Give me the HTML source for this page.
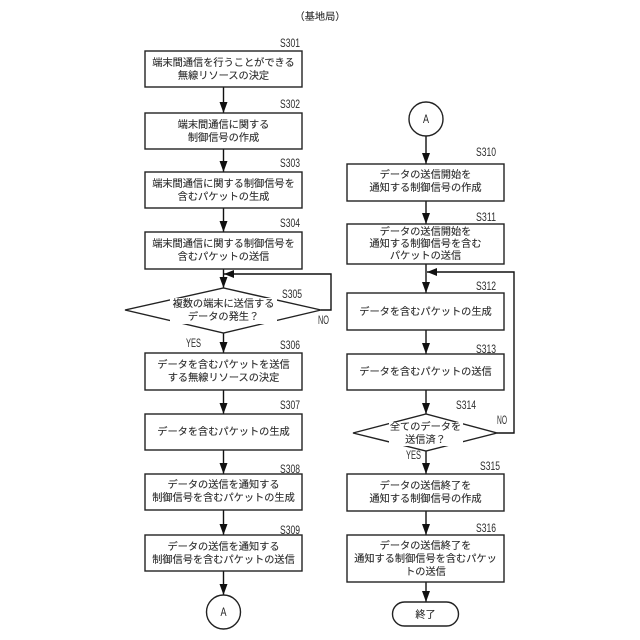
<!DOCTYPE html>
<html lang="ja">
<head>
<meta charset="utf-8">
<style>
html,body{margin:0;padding:0;background:#fff;width:640px;height:640px;overflow:hidden}
svg{display:block}
.b{fill:#fff;stroke:#222;stroke-width:1.4}
.l{stroke:#111;stroke-width:1.4;fill:none}
.a{fill:#111;stroke:none}
.t{font-family:"Liberation Sans","Noto Sans CJK JP",sans-serif;font-size:10.2px;fill:#2c2c2c;stroke:#2c2c2c;stroke-width:.12;text-anchor:middle}
.s{font-family:"Liberation Sans",sans-serif;font-size:11.5px;fill:#2c2c2c}
.m{font-family:"Liberation Sans",sans-serif;font-size:11.5px;fill:#222;text-anchor:middle}
</style>
</head>
<body>
<svg width="640" height="640" viewBox="0 0 640 640" xmlns="http://www.w3.org/2000/svg">
<text class="t" x="320" y="20">（基地局）</text>

<!-- left connectors -->
<g class="l">
<path d="M223.5 87V113M223.5 149V172M223.5 208V232M223.5 269V288M223.5 333V353M223.5 390V414M223.5 450V474M223.5 510V535M223.5 571V595"/>
<path d="M321 310H331V274H224"/>
</g>
<g class="a">
<path d="M219.500 102L227.500 102L223.500 113Z"/>
<path d="M219.500 161L227.500 161L223.500 172Z"/>
<path d="M219.500 221L227.500 221L223.500 232Z"/>
<path d="M219.500 277L227.500 277L223.500 288Z"/>
<path d="M219.500 342L227.500 342L223.500 353Z"/>
<path d="M219.500 403L227.500 403L223.500 414Z"/>
<path d="M219.500 463L227.500 463L223.500 474Z"/>
<path d="M219.500 524L227.500 524L223.500 535Z"/>
<path d="M219.500 584L227.500 584L223.500 595Z"/>
<path d="M224 274L234 270L234 278Z"/>
</g>

<!-- left boxes -->
<rect class="b" x="145" y="51" width="157" height="36"/>
<rect class="b" x="145" y="113" width="157" height="36"/>
<rect class="b" x="145" y="172" width="157" height="36"/>
<rect class="b" x="145" y="232" width="157" height="37"/>
<polygon class="b" points="125,310 223.500,288 321,310 223.500,333"/>
<rect class="b" x="145" y="353" width="157" height="37"/>
<rect class="b" x="145" y="414" width="157" height="36"/>
<rect class="b" x="145" y="474" width="157" height="36"/>
<rect class="b" x="145" y="535" width="157" height="36"/>
<circle class="b" cx="223.500" cy="612" r="17"/>

<text class="t" x="223.500" y="66">端末間通信を行うことができる</text>
<text class="t" x="223.500" y="79">無線リソースの決定</text>
<text class="t" x="223.500" y="128">端末間通信に関する</text>
<text class="t" x="223.500" y="141">制御信号の作成</text>
<text class="t" x="223.500" y="187">端末間通信に関する制御信号を</text>
<text class="t" x="223.500" y="200">含むパケットの生成</text>
<text class="t" x="223.500" y="247">端末間通信に関する制御信号を</text>
<text class="t" x="223.500" y="260">含むパケットの送信</text>
<rect x="170" y="298" width="107" height="26" fill="#fff" stroke="none"/>
<text class="t" x="223.500" y="307">複数の端末に送信する</text>
<text class="t" x="223.500" y="320">データの発生？</text>
<text class="t" x="223.500" y="368">データを含むパケットを送信</text>
<text class="t" x="223.500" y="381">する無線リソースの決定</text>
<text class="t" x="223.500" y="435">データを含むパケットの生成</text>
<text class="t" x="223.500" y="488">データの送信を通知する</text>
<text class="t" x="223.500" y="501">制御信号を含むパケットの生成</text>
<text class="t" x="223.500" y="550">データの送信を通知する</text>
<text class="t" x="223.500" y="563">制御信号を含むパケットの送信</text>
<text class="m" x="223.500" y="616" textLength="6" lengthAdjust="spacingAndGlyphs">A</text>

<text class="s" x="280" y="47" textLength="20" lengthAdjust="spacingAndGlyphs">S301</text>
<text class="s" x="280" y="108" textLength="20" lengthAdjust="spacingAndGlyphs">S302</text>
<text class="s" x="280" y="167" textLength="20" lengthAdjust="spacingAndGlyphs">S303</text>
<text class="s" x="280" y="227" textLength="20" lengthAdjust="spacingAndGlyphs">S304</text>
<text class="s" x="282" y="298" textLength="20" lengthAdjust="spacingAndGlyphs">S305</text>
<text class="s" x="280" y="349" textLength="20" lengthAdjust="spacingAndGlyphs">S306</text>
<text class="s" x="280" y="409" textLength="20" lengthAdjust="spacingAndGlyphs">S307</text>
<text class="s" x="280" y="473" textLength="20" lengthAdjust="spacingAndGlyphs">S308</text>
<text class="s" x="280" y="534" textLength="20" lengthAdjust="spacingAndGlyphs">S309</text>
<text class="s" x="318" y="324" textLength="11" lengthAdjust="spacingAndGlyphs">NO</text>
<text class="s" x="186" y="347" textLength="15" lengthAdjust="spacingAndGlyphs">YES</text>

<!-- right connectors -->
<g class="l">
<path d="M426 136V164M426 201V224M426 264V293M426 330V354M426 390V414M426 451V474M426 511V535M426 582V602"/>
<path d="M497 433H514V272H427"/>
</g>
<g class="a">
<path d="M422 153L430 153L426 164Z"/>
<path d="M422 213L430 213L426 224Z"/>
<path d="M422 282L430 282L426 293Z"/>
<path d="M422 343L430 343L426 354Z"/>
<path d="M422 403L430 403L426 414Z"/>
<path d="M422 463L430 463L426 474Z"/>
<path d="M422 524L430 524L426 535Z"/>
<path d="M422 591L430 591L426 602Z"/>
<path d="M427 272L437 268L437 276Z"/>
</g>

<!-- right boxes -->
<circle class="b" cx="426" cy="119" r="17"/>
<rect class="b" x="347" y="164" width="157" height="37"/>
<rect class="b" x="347" y="224" width="157" height="40"/>
<rect class="b" x="347" y="293" width="157" height="37"/>
<rect class="b" x="347" y="354" width="157" height="36"/>
<polygon class="b" points="353,433 426,414 497,433 426,451"/>
<rect class="b" x="347" y="474" width="157" height="37"/>
<rect class="b" x="347" y="535" width="157" height="47"/>
<rect class="b" x="392.500" y="602" width="66" height="24" rx="12" ry="12"/>

<text class="m" x="426" y="123" textLength="6" lengthAdjust="spacingAndGlyphs">A</text>
<text class="t" x="425.500" y="178">データの送信開始を</text>
<text class="t" x="425.500" y="191">通知する制御信号の作成</text>
<text class="t" x="425.500" y="235">データの送信開始を</text>
<text class="t" x="425.500" y="247">通知する制御信号を含む</text>
<text class="t" x="425.500" y="259">パケットの送信</text>
<text class="t" x="425.500" y="315">データを含むパケットの生成</text>
<text class="t" x="425.500" y="375">データを含むパケットの送信</text>
<rect x="389" y="422" width="74" height="24" fill="#fff" stroke="none"/>
<text class="t" x="425.500" y="430">全てのデータを</text>
<text class="t" x="425.500" y="443">送信済？</text>
<text class="t" x="425.500" y="489">データの送信終了を</text>
<text class="t" x="425.500" y="502">通知する制御信号の作成</text>
<text class="t" x="425.500" y="549">データの送信終了を</text>
<text class="t" x="425.500" y="562">通知する制御信号を含むパケッ</text>
<text class="t" x="425.500" y="575">トの送信</text>
<text class="t" x="425.500" y="618">終了</text>

<text class="s" x="476" y="156" textLength="20" lengthAdjust="spacingAndGlyphs">S310</text>
<text class="s" x="476" y="221" textLength="20" lengthAdjust="spacingAndGlyphs">S311</text>
<text class="s" x="476" y="290" textLength="20" lengthAdjust="spacingAndGlyphs">S312</text>
<text class="s" x="476" y="353" textLength="20" lengthAdjust="spacingAndGlyphs">S313</text>
<text class="s" x="456" y="409" textLength="20" lengthAdjust="spacingAndGlyphs">S314</text>
<text class="s" x="480" y="470" textLength="20" lengthAdjust="spacingAndGlyphs">S315</text>
<text class="s" x="476" y="532" textLength="20" lengthAdjust="spacingAndGlyphs">S316</text>
<text class="s" x="497" y="424" textLength="10" lengthAdjust="spacingAndGlyphs">NO</text>
<text class="s" x="406" y="459" textLength="15" lengthAdjust="spacingAndGlyphs">YES</text>
</svg>
</body>
</html>
